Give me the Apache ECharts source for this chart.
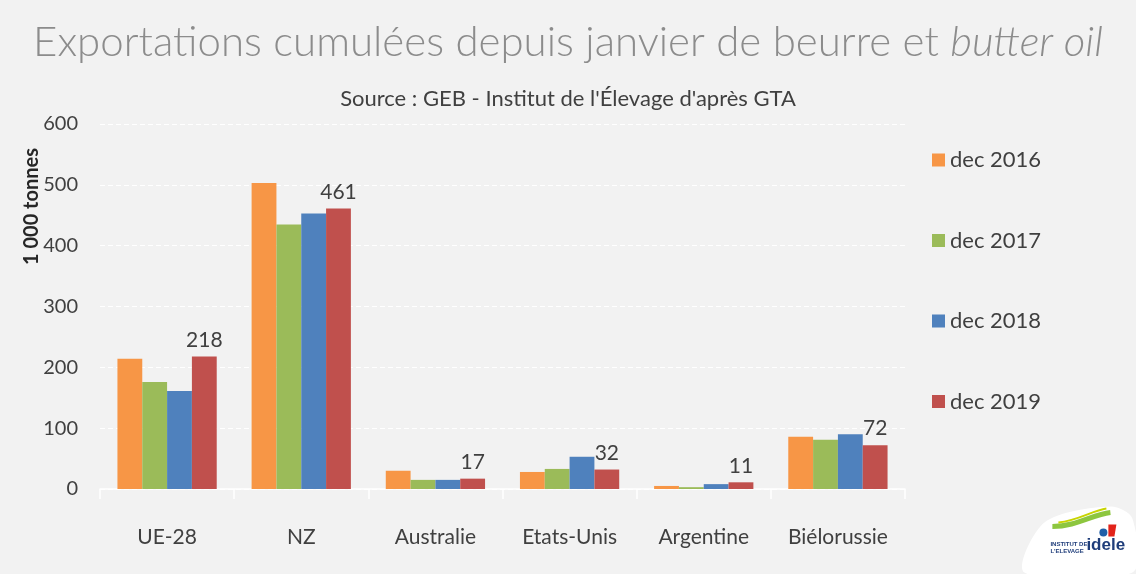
<!DOCTYPE html>
<html>
<head>
<meta charset="utf-8">
<script src="https://cdn.jsdelivr.net/npm/echarts@6/dist/echarts.min.js"></script>
<style>
  html, body { margin: 0; padding: 0; background: #f2f2f2; }
  #main { width: 1136px; height: 574px; }
</style>
</head>
<body>
<div id="main"></div>
<script>
// données (1 000 tonnes)
var categories = ['UE-28', 'NZ', 'Australie', 'Etats-Unis', 'Argentine', 'Biélorussie'];
var seriesNames = ['dec 2016', 'dec 2017', 'dec 2018', 'dec 2019'];
var dec2016 = [214, 503, 30, 28, 5, 86];
var dec2017 = [176, 435, 15, 33, 3, 81];
var dec2018 = [161, 453, 15, 53, 8, 90];
var dec2019 = [218, 461, 17, 32, 11, 72];
var colors = ['#f79646', '#9bbb59', '#4f81bd', '#c0504d'];

var chart = echarts.init(document.getElementById('main'));
var font = 'Lato, "Open Sans", sans-serif';

function makeSeries(name, data, idx) {
  var s = {
    name: name,
    type: 'bar',
    data: data,
    barGap: '0%',
    barCategoryGap: '26%',
    itemStyle: { color: colors[idx] }
  };
  // seules les valeurs 2019 sont étiquetées
  if (idx === 3) {
    s.label = {
      show: true,
      position: 'top',
      distance: 6,
      color: '#404040',
      fontSize: 21,
      fontFamily: font
    };
  }
  return s;
}

chart.setOption({
  backgroundColor: '#f2f2f2',
  textStyle: { fontFamily: font },
  title: [{
    text: '{n|Exportations cumulées depuis janvier de beurre et }{i|butter oil}',
    left: 'center',
    top: 16,
    textStyle: {
      rich: {
        n: { fontSize: 42, color: '#8c8c8c', fontFamily: font, fontWeight: 300 },
        i: { fontSize: 42, color: '#8c8c8c', fontFamily: font, fontStyle: 'italic', fontWeight: 300 }
      }
    }
  }, {
    text: "Source : GEB - Institut de l'Élevage d'après GTA",
    left: 'center',
    top: 83,
    textStyle: { fontSize: 22, color: '#404040', fontWeight: 'normal', fontFamily: font }
  }],
  legend: {
    orient: 'vertical',
    left: 927,
    top: 144,
    itemGap: 58.5,
    itemWidth: 13,
    itemHeight: 13,
    icon: 'rect',
    data: seriesNames,
    textStyle: { fontSize: 22, color: '#404040' }
  },
  grid: {
    left: 100,
    top: 124,
    width: 805,
    height: 365,
    containLabel: false
  },
  xAxis: {
    type: 'category',
    data: categories,
    axisLine: { lineStyle: { color: '#ffffff', width: 1.5 } },
    axisTick: { show: true, length: 10, lineStyle: { color: '#ffffff', width: 1.5 } },
    axisLabel: { fontSize: 21, color: '#404040', margin: 38 }
  },
  yAxis: {
    type: 'value',
    min: 0,
    max: 600,
    interval: 100,
    name: '1 000 tonnes',
    nameLocation: 'middle',
    nameRotate: 90,
    nameGap: 58,
    nameMoveOverlap: false,
    nameTextStyle: { fontSize: 20, fontWeight: 'bold', color: '#262626', padding: [0, 0, 0, 200] },
    axisLine: { show: false },
    axisTick: { show: false },
    axisLabel: { fontSize: 20, color: '#404040', margin: 22 },
    splitLine: { lineStyle: { color: '#ffffff', type: [5, 3], width: 1 } }
  },
  series: [
    makeSeries(seriesNames[0], dec2016, 0),
    makeSeries(seriesNames[1], dec2017, 1),
    makeSeries(seriesNames[2], dec2018, 2),
    makeSeries(seriesNames[3], dec2019, 3)
  ],
  graphic: [{
    type: 'group',
    left: 1022,
    top: 506,
    children: [{
      type: 'polygon',
      shape: { points: [[6, 68], [26, 18], [92, 2], [114, 14], [114, 68]], smooth: 0.3 },
      style: { fill: '#ffffff' }
    }, {
      type: 'bezierCurve',
      shape: { x1: 34, y1: 22, x2: 92, y2: 8, cpx1: 58, cpy1: 22, cpx2: 74, cpy2: 10 },
      style: { stroke: '#8dc63f', lineWidth: 5, fill: null }
    }, {
      type: 'bezierCurve',
      shape: { x1: 40, y1: 18, x2: 88, y2: 4, cpx1: 60, cpy1: 16, cpx2: 74, cpy2: 6 },
      style: { stroke: '#c8d400', lineWidth: 2, fill: null }
    }, {
      type: 'circle',
      shape: { cx: 85, cy: 28, r: 4 },
      style: { fill: '#1f5fa8' }
    }, {
      type: 'polygon',
      shape: { points: [[90, 20], [98, 20], [96, 32], [90, 32]] },
      style: { fill: '#e2231a' }
    }, {
      type: 'text',
      style: { x: 32, y: 36, text: 'INSTITUT DE\nL\'ELEVAGE', fontSize: 6, fontWeight: 'bold', fill: '#1f3d7a', lineHeight: 7 }
    }, {
      type: 'text',
      style: { x: 68, y: 32, text: 'idele', fontSize: 17, fontWeight: 'bold', fill: '#1f3d7a' }
    }]
  }]
});
</script>
</body>
</html>
